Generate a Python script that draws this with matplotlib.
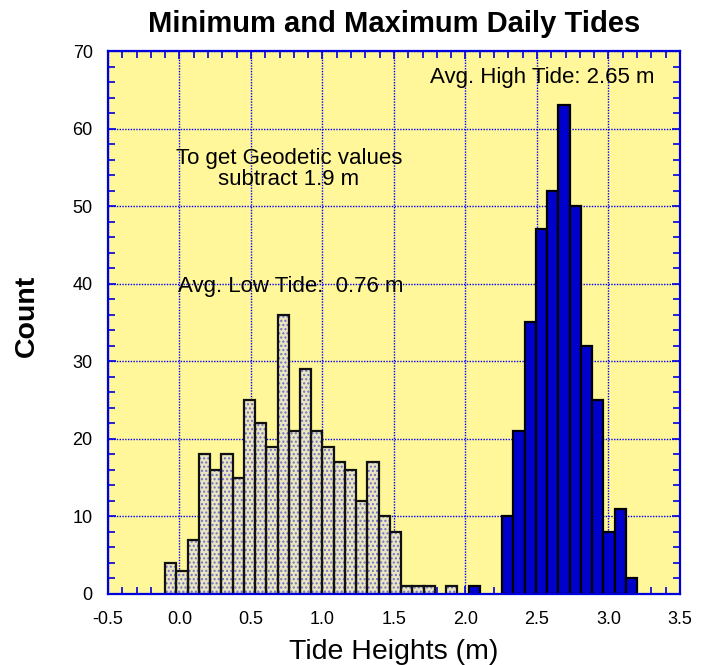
import numpy as np
import matplotlib
matplotlib.use("Agg")
import matplotlib.pyplot as plt
from matplotlib.ticker import MultipleLocator

plt.rcParams['font.family'] = ['Liberation Sans', 'DejaVu Sans']

# histogram bins: 42 equal bins from -0.1 to 3.2 m
bin_start = -0.1
bin_stop = 3.2
n_bins = 42

low_counts = [4, 3, 7, 18, 16, 18, 15, 25, 22, 19, 36, 21, 29, 21, 19, 17, 16, 12,
              17, 10, 8, 1, 1, 1, 0, 1, 0, 0, 0, 0, 0, 0, 0, 0, 0, 0, 0, 0, 0, 0, 0, 0]
high_counts = [0, 0, 0, 0, 0, 0, 0, 0, 0, 0, 0, 0, 0, 0, 0, 0, 0, 0, 0, 0, 0, 0,
               0, 0, 0, 0, 0, 1, 0, 0, 10, 21, 35, 47, 52, 63, 50, 32, 25, 8, 11, 2]

x_ticks = [-0.5, 0.0, 0.5, 1.0, 1.5, 2.0, 2.5, 3.0, 3.5]
y_ticks = [0, 10, 20, 30, 40, 50, 60, 70]

edges = np.linspace(bin_start, bin_stop, n_bins + 1)
lefts = edges[:-1]
width = edges[1] - edges[0]

fig = plt.figure(figsize=(7.01, 6.65), dpi=100)
ax = fig.add_axes([0.154, 0.1068, 0.816, 0.8165])
ax.set_facecolor('#fff799')

low = np.array(low_counts)
high = np.array(high_counts)
lm = low > 0
hm = high > 0

ax.bar(lefts[lm], low[lm], width=width, align='edge', color='#ebe6c0',
       edgecolor='#7070c8', hatch='....', linewidth=0, zorder=2)
ax.bar(lefts[lm], low[lm], width=width, align='edge', facecolor='none',
       edgecolor='#111111', linewidth=1.6, zorder=3)
ax.bar(lefts[hm], high[hm], width=width, align='edge', color='#0000cc',
       edgecolor='#000000', linewidth=1.6, zorder=3)

ax.set_xlim(-0.5, 3.5)
ax.set_ylim(0, 70)
ax.set_xticks(x_ticks)
ax.set_xticklabels([f"{v:.1f}" for v in x_ticks])
ax.set_yticks(y_ticks)
ax.xaxis.set_minor_locator(MultipleLocator(0.1))
ax.yaxis.set_minor_locator(MultipleLocator(2))

ax.grid(True, which='major', color='#0000ff', linestyle=(0, (1, 1)), linewidth=1.0, zorder=1)
ax.set_axisbelow(True)

for s in ax.spines.values():
    s.set_color('#0000dd')
    s.set_linewidth(1.6)
    s.set_zorder(5)

ax.tick_params(which='both', direction='in', color='#0000dd', top=True, right=True,
               labelsize=13)
ax.tick_params(axis='x', which='major', pad=12)
ax.tick_params(axis='y', which='major', pad=11)
ax.tick_params(which='major', length=6, width=1.2)
ax.tick_params(which='minor', length=5, width=1.2)

ax.set_title('Minimum and Maximum Daily Tides', fontsize=21, fontweight='bold', pad=14)
ax.set_xlabel('Tide Heights (m)', fontsize=20.5, labelpad=8)
ax.set_ylabel('Count', fontsize=20.5, fontweight='bold')
ax.yaxis.set_label_coords(-0.119, 0.512)

ax.text(2.54, 66.6, 'Avg. High Tide: 2.65 m', ha='center', va='center', fontsize=16, zorder=6)
ax.text(0.765, 54.8, 'To get Geodetic values\nsubtract 1.9 m', ha='center', va='center',
        fontsize=16, linespacing=1.05, zorder=6)
ax.text(0.78, 39.6, 'Avg. Low Tide:  0.76 m', ha='center', va='center', fontsize=16, zorder=6)

fig.savefig('out.png', dpi=100)
